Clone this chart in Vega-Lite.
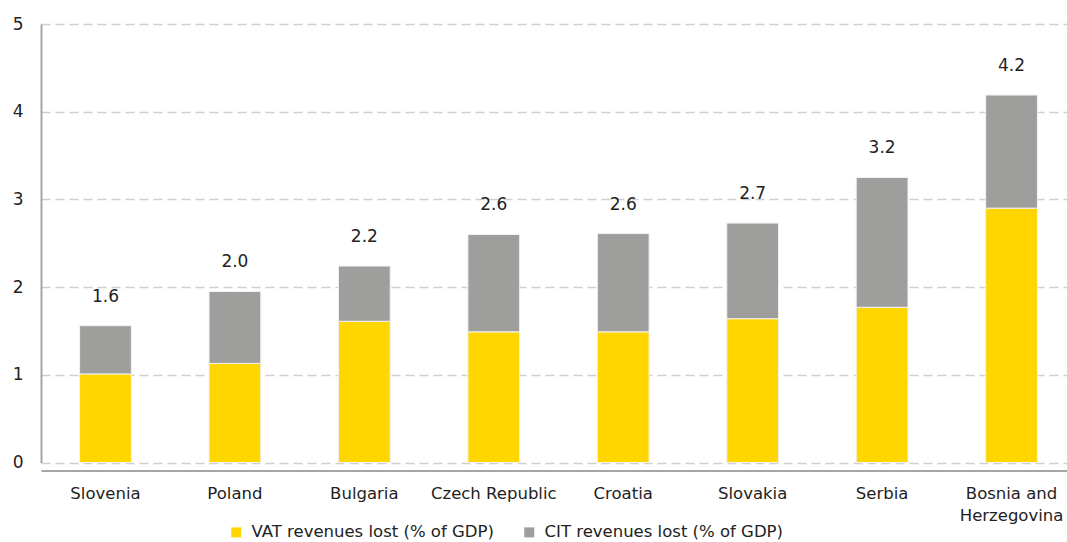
{
  "$schema": "https://vega.github.io/schema/vega-lite/v6.json",
  "width": 1026,
  "height": 438.5,
  "autosize": {"type": "none"},
  "padding": {"left": 41, "top": 24, "right": 0, "bottom": 80},
  "background": "white",
  "config": {
    "view": {"stroke": null},
    "font": "DejaVu Sans",
    "axis": {"labelFont": "DejaVu Sans", "labelColor": "#222222"},
    "legend": {"labelFont": "DejaVu Sans"}
  },
  "datasets": {
    "bars": [
      {"country": "Slovenia", "series": "VAT revenues lost (% of GDP)", "value": 1.01},
      {"country": "Slovenia", "series": "CIT revenues lost (% of GDP)", "value": 0.55},
      {"country": "Poland", "series": "VAT revenues lost (% of GDP)", "value": 1.13},
      {"country": "Poland", "series": "CIT revenues lost (% of GDP)", "value": 0.82},
      {"country": "Bulgaria", "series": "VAT revenues lost (% of GDP)", "value": 1.61},
      {"country": "Bulgaria", "series": "CIT revenues lost (% of GDP)", "value": 0.63},
      {"country": "Czech Republic", "series": "VAT revenues lost (% of GDP)", "value": 1.49},
      {"country": "Czech Republic", "series": "CIT revenues lost (% of GDP)", "value": 1.11},
      {"country": "Croatia", "series": "VAT revenues lost (% of GDP)", "value": 1.49},
      {"country": "Croatia", "series": "CIT revenues lost (% of GDP)", "value": 1.12},
      {"country": "Slovakia", "series": "VAT revenues lost (% of GDP)", "value": 1.64},
      {"country": "Slovakia", "series": "CIT revenues lost (% of GDP)", "value": 1.09},
      {"country": "Serbia", "series": "VAT revenues lost (% of GDP)", "value": 1.77},
      {"country": "Serbia", "series": "CIT revenues lost (% of GDP)", "value": 1.48},
      {"country": "Bosnia and Herzegovina", "series": "VAT revenues lost (% of GDP)", "value": 2.9},
      {"country": "Bosnia and Herzegovina", "series": "CIT revenues lost (% of GDP)", "value": 1.29}
    ],
    "totals": [
      {"country": "Slovenia", "total": 1.56, "label": "1.6"},
      {"country": "Poland", "total": 1.95, "label": "2.0"},
      {"country": "Bulgaria", "total": 2.24, "label": "2.2"},
      {"country": "Czech Republic", "total": 2.6, "label": "2.6"},
      {"country": "Croatia", "total": 2.61, "label": "2.6"},
      {"country": "Slovakia", "total": 2.73, "label": "2.7"},
      {"country": "Serbia", "total": 3.25, "label": "3.2"},
      {"country": "Bosnia and Herzegovina", "total": 4.19, "label": "4.2"}
    ]
  },
  "encoding": {
    "x": {
      "field": "country",
      "type": "nominal",
      "sort": ["Slovenia", "Poland", "Bulgaria", "Czech Republic", "Croatia", "Slovakia", "Serbia", "Bosnia and Herzegovina"],
      "scale": {"range": [0, 1035], "paddingInner": 0.6, "paddingOuter": 0.298},
      "axis": {
        "title": null,
        "labelAngle": 0,
        "ticks": false,
        "offset": 8,
        "domainColor": "#a6a6a6",
        "domainWidth": 2,
        "labelFontSize": 16.5,
        "labelPadding": 15,
        "labelLineHeight": 22,
        "labelLimit": 0,
        "labelExpr": "datum.value == 'Bosnia and Herzegovina' ? ['Bosnia and', 'Herzegovina'] : datum.value"
      }
    }
  },
  "layer": [
    {
      "data": {"name": "bars"},
      "mark": {"type": "bar", "stroke": "#f2f2f2", "strokeWidth": 1},
      "encoding": {
        "y": {
          "field": "value",
          "type": "quantitative",
          "stack": "zero",
          "scale": {"domain": [0, 5], "nice": false},
          "axis": {
            "title": null,
            "values": [0, 1, 2, 3, 4, 5],
            "format": "d",
            "ticks": false,
            "domainColor": "#a6a6a6",
            "domainWidth": 2,
            "gridColor": "#d0d0d0",
            "gridWidth": 1.5,
            "gridDash": [9, 5],
            "labelFontSize": 17,
            "labelPadding": 18
          }
        },
        "color": {
          "field": "series",
          "type": "nominal",
          "scale": {"domain": ["VAT revenues lost (% of GDP)", "CIT revenues lost (% of GDP)"], "range": ["#FFD600", "#9E9E9C"]},
          "legend": {
            "title": null,
            "orient": "none",
            "direction": "horizontal",
            "legendX": 187,
            "legendY": 500,
            "symbolType": "square",
            "symbolSize": 100,
            "symbolStrokeWidth": 0,
            "labelFontSize": 16.5,
            "labelLimit": 0,
            "labelColor": "#222222",
            "columnPadding": 27,
            "labelOffset": 7
          }
        },
        "order": {"field": "series", "sort": "descending"}
      }
    },
    {
      "data": {"name": "totals"},
      "mark": {"type": "text", "dy": -29, "baseline": "middle", "fontSize": 17, "color": "#222222"},
      "encoding": {
        "y": {"field": "total", "type": "quantitative"},
        "text": {"field": "label"}
      }
    }
  ]
}
